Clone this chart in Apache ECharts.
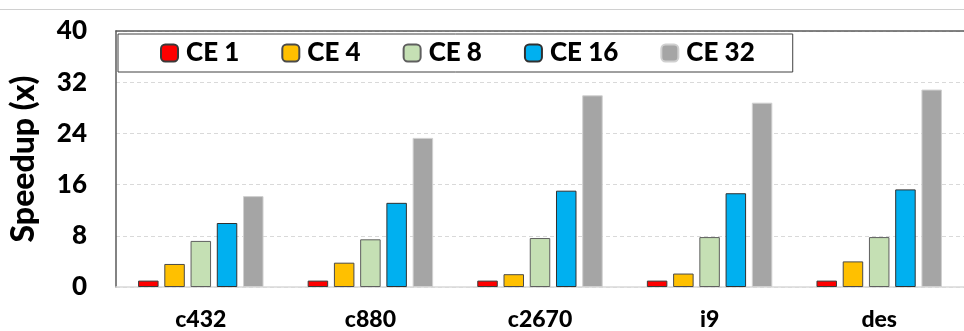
<!DOCTYPE html>
<html>
<head>
<meta charset="utf-8">
<script src="https://cdn.jsdelivr.net/npm/echarts@6/dist/echarts.min.js"></script>
<style>
  html, body { margin: 0; padding: 0; background: #ffffff; }
  #chart { width: 964px; height: 331px; }
</style>
</head>
<body>
<div id="chart"></div>
<script>
// Benchmark circuits on the x axis
const categories = ['c432', 'c880', 'c2670', 'i9', 'des'];

// Speedup per number of compute elements (CE)
const ce1  = [1.0, 1.0, 1.0, 1.0, 1.0];
const ce4  = [3.6, 3.8, 2.0, 2.1, 4.0];
const ce8  = [7.2, 7.45, 7.65, 7.8, 7.8];
const ce16 = [10.0, 13.15, 15.05, 14.65, 15.25];
const ce32 = [14.2, 23.3, 29.95, 28.8, 30.85];

const seriesNames = ['CE 1', 'CE 4', 'CE 8', 'CE 16', 'CE 32'];
const yTicks = [0, 8, 16, 24, 32, 40];

const FONT = 'Lato';
const WEIGHT = 900;
const colors  = ['#FF0000', '#FFC000', '#C5E0B4', '#00B0F0', '#A5A5A5'];
const borders = ['#3a3a3a', '#4a4a4a', '#5f5f5f', '#303030', '#d0d0d0'];
const values  = [ce1, ce4, ce8, ce16, ce32];

const chart = echarts.init(document.getElementById('chart'));

const series = seriesNames.map((name, i) => ({
  name,
  type: 'bar',
  data: values[i],
  barWidth: 20.5,
  barGap: '28%',
  itemStyle: { color: colors[i], borderColor: borders[i], borderWidth: 1 }
}));

chart.setOption({
  animation: false,
  backgroundColor: '#ffffff',
  color: colors,
  grid: { left: 115.5, right: -4.5, top: 31, bottom: 43, containLabel: false },
  legend: {
    data: seriesNames,
    left: 118,
    top: 34,
    padding: [6, 38, 6, 42],
    itemWidth: 17,
    itemHeight: 17,
    itemGap: 42,
    borderColor: '#404040',
    borderWidth: 1,
    backgroundColor: '#ffffff',
    textStyle: {
      fontFamily: FONT, fontWeight: WEIGHT, fontSize: 26, color: '#000000',
      padding: [0, 0, 0, 3], lineHeight: 26
    }
  },
  xAxis: [{
    type: 'category',
    data: categories,
    axisLine: { show: true, lineStyle: { color: '#d9d9d9', width: 1.5 } },
    axisTick: { show: false },
    axisLabel: { fontFamily: FONT, fontWeight: WEIGHT, fontSize: 23, color: '#000000', margin: 21 }
  }, {
    // frame line along the top of the plot area
    type: 'category',
    data: categories,
    position: 'top',
    axisLine: { show: true, lineStyle: { color: '#5a5a5a', width: 1.5 } },
    axisTick: { show: false },
    axisLabel: { show: false }
  }],
  yAxis: {
    type: 'value',
    min: yTicks[0],
    max: yTicks[yTicks.length - 1],
    interval: 8,
    name: 'Speedup (x)',
    nameLocation: 'middle',
    nameGap: 76,
    nameTextStyle: { fontFamily: FONT, fontWeight: WEIGHT, fontSize: 32, color: '#000000' },
    axisLine: { show: true, lineStyle: { color: '#5a5a5a', width: 1.5 } },
    axisTick: { show: false },
    axisLabel: { fontFamily: FONT, fontWeight: WEIGHT, fontSize: 26, color: '#000000', margin: 29 },
    splitLine: { show: true, lineStyle: { color: '#d9d9d9', width: 1, type: [4, 3] } }
  },
  graphic: [{
    type: 'line',
    shape: { x1: 0, y1: 9.5, x2: 964, y2: 9.5 },
    style: { stroke: '#d0d0d0', lineWidth: 1 }
  }],
  series
});
</script>
</body>
</html>
